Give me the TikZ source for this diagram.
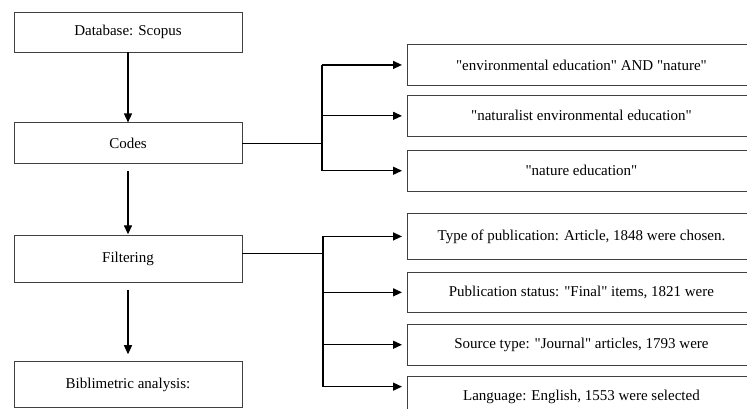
\documentclass[tikz,border=0pt]{standalone}
\usepackage{fontspec}
\setmainfont{Liberation Serif}[Ligatures=TeXOff]
\usetikzlibrary{positioning,arrows.meta}

\begin{document}
\begin{tikzpicture}[x=1pt, y=1pt, node distance={70pt},
		box/.style={draw=black!75, line width=0.9pt, minimum width=228pt, minimum height=41pt, inner sep=0pt, font=\fontsize{15}{17}\selectfont},
		term/.style={box, minimum width=348pt},
		link/.style={line width=1.3pt},
		arr/.style={link, -{Triangle[length=9pt,width=8pt]}, shorten >=5pt}]
		\useasboundingbox (0,0) rectangle (747,409);
		
		% main steps
		\node[box, minimum height=40pt] (db) at (128,377) {Database: Scopus};
		\node[box] (codes) [below=70pt of db] {Codes};
		\node[box, minimum height=47pt] (filt) [below=71pt of codes] {Filtering};
		\node[box, minimum height=46pt] (bib) [below=78pt of filt] {Biblimetric analysis:};
		
		% search codes
		\node[term, anchor=north west] (c1) at (407,365) {"environmental education" AND "nature"};
		\node[term] (c2) [below=9pt of c1] {"naturalist environmental education"};
		\node[term] (c3) [below=13pt of c2] {"nature education"};
		
		% filters
		\node[term, anchor=north west, minimum height=46pt] (f1) at (407,196) {Type of publication: Article, 1848 were chosen.};
		\node[term, minimum height=40pt] (f2) [below=12pt of f1] {Publication status: "Final" items, 1821 were};
		\node[term] (f3) [below=11pt of f2] {Source type: "Journal" articles, 1793 were};
		\node[term] (f4) [below=10pt of f3] {Language: English, 1553 were selected};
		
		\coordinate (ctrunk) at (322,0);
		\coordinate (ftrunk) at (323,0);
		\coordinate (fend) at ([yshift=10pt]f4.west);
		
		\draw[arr, shorten >=0pt] (db) -- (codes);
		\draw[arr, shorten <=7pt, shorten >=1pt] (codes) -- (filt);
		\draw[arr, shorten <=7pt, shorten >=7pt] (filt) -- (bib);
		
		\draw[link] (codes.east) -- (codes.east -| ctrunk);
		\draw[link] (ctrunk |- c1.west) -- (ctrunk |- c3.west);
		\foreach \t in {c1,c2,c3}
			\draw[arr] (ctrunk |- \t.west) -- (\t.west);
		
		\draw[link] ([yshift=6pt]filt.east) -- ([yshift=6pt]filt.east -| ftrunk);
		\draw[link] (ftrunk |- f1.west) -- (ftrunk |- fend);
		\foreach \t in {f1,f2,f3}
			\draw[arr] (ftrunk |- \t.west) -- (\t.west);
		\draw[arr] (ftrunk |- fend) -- (fend);
	\end{tikzpicture}
\end{document}
